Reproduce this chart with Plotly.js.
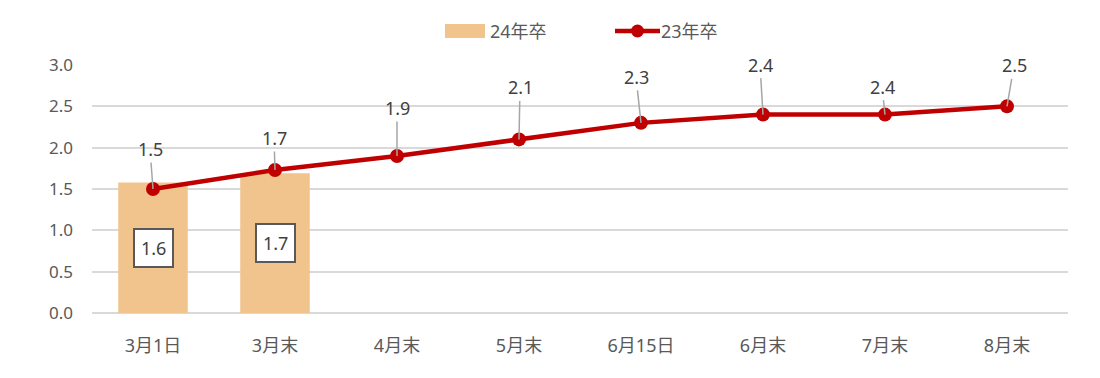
<!DOCTYPE html>
<html>
<head>
<meta charset="utf-8">
<script src="https://cdn.plot.ly/plotly-3.0.1.min.js"></script>
<style>html,body{margin:0;padding:0;background:#fff;}#chart{width:1100px;height:378px;}</style>
</head>
<body>
<div id="chart"></div>
<script>
const categories = ["3月1日", "3月末", "4月末", "5月末", "6月15日", "6月末", "7月末", "8月末"];
const barName = "24年卒";
const barCategories = ["3月1日", "3月末"];
const barValues = [1.58, 1.69];
const lineName = "23年卒";
const lineValues = [1.5, 1.73, 1.9, 2.1, 2.3, 2.4, 2.4, 2.5];
const yTicks = [0, 0.5, 1.0, 1.5, 2.0, 2.5, 3.0];

const FONT = "'Noto Sans', 'Noto Sans CJK JP', sans-serif";
const GRAY = "#595959";
const BAR_COLOR = '#F2C48D';
const LINE_COLOR = '#C00000';

const W = 1100, H = 378;
const M = {l: 92, r: 32, t: 65, b: 65};
const PW = W - M.l - M.r, PH = H - M.t - M.b;
const px = x => (x - M.l) / PW;          // pixel -> paper x
const py = y => (H - M.b - y) / PH;      // pixel -> paper y

// label offsets (pixels) for line data labels
const labelOffsets = [[-3, -40], [-1, -32], [0, -48], [1, -52], [-5, -46], [-3, -50], [-3, -28], [7, -41]];

const annotations = [];
lineValues.forEach((v, i) => {
  annotations.push({
    x: categories[i], y: v, xref: 'x', yref: 'y',
    text: v.toFixed(1),
    showarrow: true, arrowhead: 0, arrowwidth: 1.5, arrowcolor: '#a6a6a6',
    ax: labelOffsets[i][0], ay: labelOffsets[i][1],
    standoff: 0, startstandoff: 0,
    font: {family: FONT, size: 18, color: '#404040'}
  });
});
barValues.forEach((v, i) => {
  annotations.push({
    x: barCategories[i], y: v / 2, xref: 'x', yref: 'y',
    text: v.toFixed(1), showarrow: false,
    bgcolor: '#ffffff', bordercolor: GRAY, borderwidth: 2, borderpad: 6,
    font: {family: FONT, size: 18, color: '#404040'}
  });
});

// custom legend (real text + swatches)
annotations.push({
  xref: 'paper', yref: 'paper', x: px(488), y: py(31), xanchor: 'left', yanchor: 'middle',
  text: barName, showarrow: false, font: {family: FONT, size: 18, color: GRAY}
});
annotations.push({
  xref: 'paper', yref: 'paper', x: px(659), y: py(31), xanchor: 'left', yanchor: 'middle',
  text: lineName, showarrow: false, font: {family: FONT, size: 18, color: GRAY}
});
const shapes = [
  {type: 'rect', xref: 'paper', yref: 'paper', x0: px(445), x1: px(485), y0: py(38), y1: py(24),
   fillcolor: BAR_COLOR, line: {width: 0}},
  {type: 'line', xref: 'paper', yref: 'paper', x0: px(615), x1: px(660), y0: py(31), y1: py(31),
   line: {color: LINE_COLOR, width: 4.5}},
  {type: 'circle', xref: 'paper', yref: 'paper', x0: px(631), x1: px(644), y0: py(37.5), y1: py(24.5),
   fillcolor: LINE_COLOR, line: {width: 0}}
];

const data = [
  {
    type: 'bar', name: barName, x: barCategories, y: barValues,
    marker: {color: BAR_COLOR}, width: 0.57, hoverinfo: 'skip'
  },
  {
    type: 'scatter', mode: 'lines+markers', name: lineName, x: categories, y: lineValues,
    line: {color: LINE_COLOR, width: 4.5}, marker: {color: LINE_COLOR, size: 14}
  }
];

const layout = {
  width: W, height: H,
  margin: M,
  paper_bgcolor: '#ffffff', plot_bgcolor: '#ffffff',
  font: {family: FONT, size: 17, color: GRAY},
  showlegend: false,
  xaxis: {
    type: 'category', categoryorder: 'array', categoryarray: categories,
    range: [-0.5, 7.5], showgrid: false, zeroline: false, showline: false,
    ticks: '', ticklabelstandoff: 20,
    tickfont: {family: FONT, size: 18, color: GRAY}
  },
  yaxis: {
    range: [0, 3.0], tickvals: yTicks, ticktext: yTicks.map(v => v.toFixed(1)),
    showgrid: true, gridcolor: '#d9d9d9', gridwidth: 2,
    zeroline: true, zerolinecolor: '#d9d9d9', zerolinewidth: 2,
    showline: false, ticks: '', ticklabelstandoff: 18,
    tickfont: {family: FONT, size: 17, color: GRAY}
  },
  annotations: annotations,
  shapes: shapes,
  bargap: 0.43
};

Plotly.newPlot('chart', data, layout, {displayModeBar: false, staticPlot: true});
</script>
</body>
</html>
